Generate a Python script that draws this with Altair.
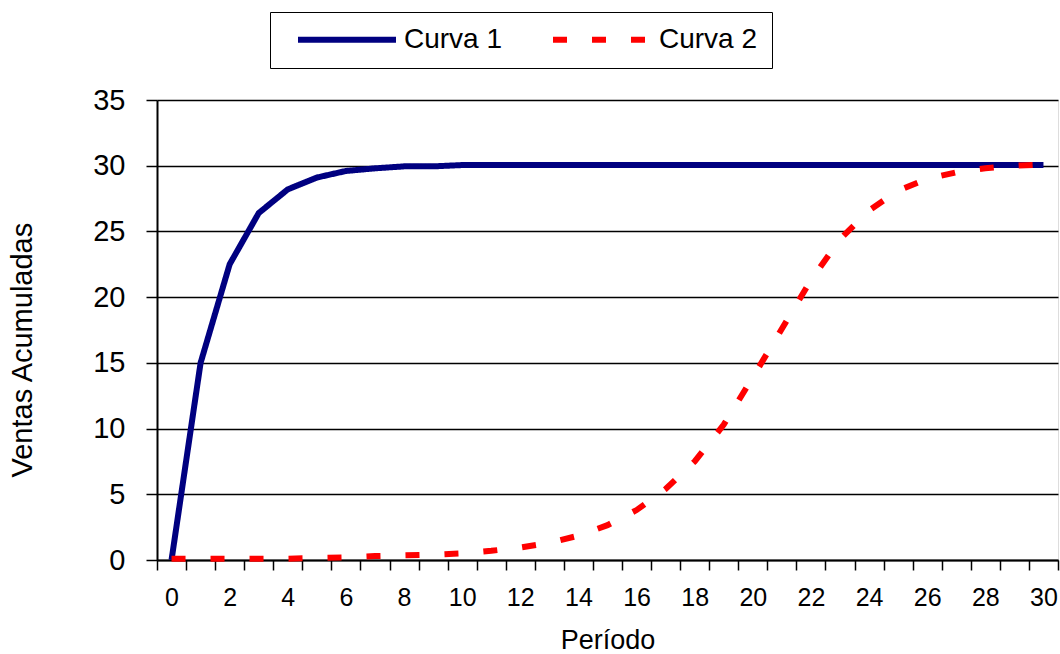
import altair as alt
import pandas as pd

periodos = list(range(31))
curva1 = [0, 15.0, 22.5, 26.4, 28.2, 29.1, 29.6, 29.8, 29.95, 29.95,
          30.05, 30.05, 30.05, 30.05, 30.05, 30.05, 30.05, 30.05, 30.05, 30.05,
          30.05, 30.05, 30.05, 30.05, 30.05, 30.05, 30.05, 30.05, 30.05, 30.05, 30.05]
curva2 = [0.1, 0.1, 0.1, 0.1, 0.1, 0.15, 0.2, 0.3, 0.35, 0.4,
          0.5, 0.7, 0.95, 1.3, 1.85, 2.65, 3.8, 5.4, 7.5, 10.3,
          13.9, 17.6, 21.3, 24.4, 26.6, 28.1, 29.0, 29.5, 29.8, 30.0, 30.1]
series = ["Curva 1", "Curva 2"]
y_ticks = [0, 5, 10, 15, 20, 25, 30, 35]

df = pd.DataFrame({
    "Período": periodos * 2,
    "Ventas": curva1 + curva2,
    "Serie": [series[0]] * 31 + [series[1]] * 31,
})

x_tick_vals = [i - 0.5 for i in range(32)]
FONT = "Liberation Sans"

legend_kw = dict(title=None, orient="none", legendX=113, legendY=-88,
                 direction="horizontal",
                 symbolType="stroke", symbolSize=9604,
                 symbolStrokeWidth=6, clipHeight=27,
                 labelFont=FONT, labelFontSize=28, labelColor="black",
                 labelOffset=5, columnPadding=36, symbolOffset=11,
                 padding=14, strokeColor="black", labelLimit=300)

chart = alt.Chart(df).mark_line(strokeWidth=6, strokeCap="butt").encode(
    x=alt.X("Período:Q",
            scale=alt.Scale(domain=[-0.5, 30.5], nice=False, zero=False),
            axis=alt.Axis(values=x_tick_vals,
                          labelExpr="(datum.value + 0.5) % 2 == 0 ? format(datum.value + 0.5, 'd') : ''",
                          labelOffset=14.5, labelOverlap=False, labelFlush=False,
                          labelFont=FONT, labelFontSize=25, labelColor="black",
                          labelPadding=15,
                          tickSize=10, tickColor="black", tickWidth=1.5,
                          domainColor="black", domainWidth=2, grid=False,
                          title="Período", titleFont=FONT, titleFontSize=27,
                          titleFontWeight="normal", titleColor="black",
                          titlePadding=17)),
    y=alt.Y("Ventas:Q",
            scale=alt.Scale(domain=[0, 35], nice=False),
            axis=alt.Axis(values=y_ticks, grid=True, gridColor="black", gridWidth=1.5,
                          tickSize=11, tickColor="black", tickWidth=1.5,
                          domainColor="black", domainWidth=2,
                          labelFont=FONT, labelFontSize=29, labelColor="black",
                          labelPadding=21,
                          title="Ventas Acumuladas", titleFont=FONT, titleFontSize=29,
                          titleFontWeight="normal", titleColor="black",
                          titleAngle=270, titleAlign="left", titleBaseline="middle",
                          titleX=-135, titleY=377)),
    color=alt.Color("Serie:N",
                    scale=alt.Scale(domain=series, range=["#000080", "#FF0000"]),
                    legend=alt.Legend(**legend_kw)),
    strokeDash=alt.StrokeDash("Serie:N",
                              scale=alt.Scale(domain=series, range=[[1, 0], [14, 25]]),
                              legend=alt.Legend(**legend_kw)),
).properties(
    width=901, height=460,
    autosize=alt.AutoSizeParams(type="none"),
    padding={"left": 157, "top": 100, "right": 2, "bottom": 94},
).configure_view(
    stroke="#808080", strokeWidth=2
).configure(background="white")

chart.save("out.html", embed_options={"renderer": "svg", "actions": False})
